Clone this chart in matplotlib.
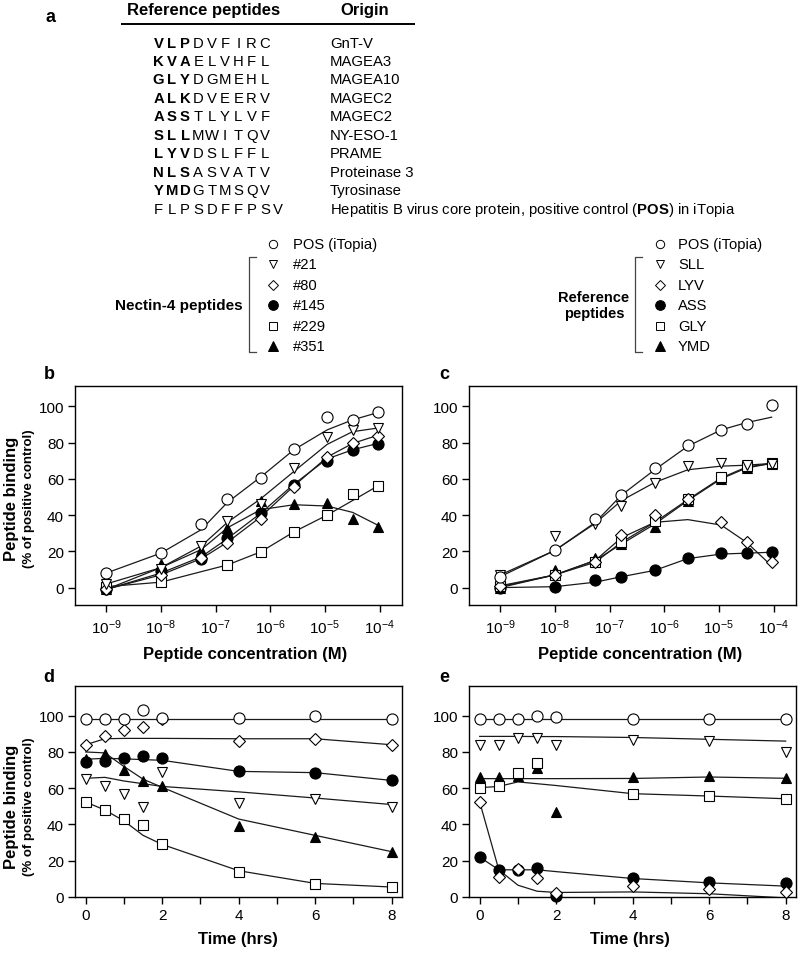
import numpy as np
import matplotlib
matplotlib.use('Agg')
import matplotlib.pyplot as plt

plt.rcParams['font.family'] = ['Liberation Sans', 'DejaVu Sans']
plt.rcParams['mathtext.fontset'] = 'custom'
plt.rcParams['mathtext.rm'] = 'Liberation Sans'
plt.rcParams['mathtext.bf'] = 'Liberation Sans:bold'
plt.rcParams['mathtext.it'] = 'Liberation Sans:italic'

# ---------------- data ----------------
table_seqs = ['VLPDVFIRC', 'KVAELVHFL', 'GLYDGMEHL', 'ALKDVEERV', 'ASSTLYLVF',
              'SLLMWITQV', 'LYVDSLFFL', 'NLSASVATV', 'YMDGTMSQV', 'FLPSDFFPSV']
table_bold = [3, 3, 3, 3, 3, 3, 3, 3, 3, 0]
table_origins = ['GnT-V', 'MAGEA3', 'MAGEA10', 'MAGEC2', 'MAGEC2', 'NY-ESO-1', 'PRAME',
                 'Proteinase 3', 'Tyrosinase',
                 r'Hepatitis B virus core protein, positive control ($\mathbf{POS}$) in iTopia']

nectin_labels = ['POS (iTopia)', '#21', '#80', '#145', '#229', '#351']
ref_labels = ['POS (iTopia)', 'SLL', 'LYV', 'ASS', 'GLY', 'YMD']

conc = [1e-9, 1e-8, 5.5e-8, 1.65e-7, 6.7e-7, 2.7e-6, 1.1e-5, 3.2e-5, 9.2e-5]
conc_ticks = [1e-9, 1e-8, 1e-7, 1e-6, 1e-5, 1e-4]
conc_ticklabels = [r'$10^{-9}$', r'$10^{-8}$', r'$10^{-7}$', r'$10^{-6}$', r'$10^{-5}$', r'$10^{-4}$']

# panel b (Nectin-4 peptides, dose response)
b_pos = [8.3, 19.3, 35.3, 49, 60.7, 76.7, 94.3, 92.5, 97]
b_21 = [2, 10, 23, 37, 46, 66, 83, 87, 88]
b_80 = [-1, 7, 16.5, 24.5, 38, 55.7, 72, 80, 83.6]
b_145 = [-1, 9, 16, 27.6, 41, 56.6, 70, 75.7, 79]
b_229 = [0.5, 3, np.nan, 12.5, 19.7, 30.7, 40, 51.5, 56]
b_351 = [-1, 13, 21, 33, 48, 46.3, 46.5, 38, 33.5]
b_pos_fit = [8, 19, 32, 47, 61, 76, 87, 92.5, 96.5]
b_21_fit = [2, 11, 23, 36, 49, 64, 79, 86, 88]
b_80_fit = [-1, 7, 16, 25, 39, 56, 72, 79.5, 84]
b_145_fit = [-1, 8, 17, 27, 41, 57, 71, 76, 79.5]
b_229_fit = [0.5, 3, 8.8, 12.5, 19.7, 30.7, 40, 48, 56]
b_351_fit = [-1, 11, 21, 33, 43, 45.7, 45, 41.5, 34.5]

# panel c (reference peptides, dose response)
c_pos = [6, 20.5, 38, 51, 66, 78.5, 87, 90, 100.7]
c_sll = [7, 28.5, 35, 45, 57.5, 67, 69, 67.5, 68]
c_lyv = [1, 7, 14, 29, 40, 49, 36, 25, 14]
c_ass = [0, 0.5, 4, 6, 9.5, 16.5, 19, 19, 19.8]
c_gly = [1, 7, 14, 25, 36.7, 49, 61, 67, 68.5]
c_ymd = [0, 9.5, 16.5, 24, 33.4, 48, 60, 66, 68]
c_pos_fit = [6, 20.5, 36, 51, 65, 78, 87, 91, 94]
c_sll_fit = [7, 20.5, 35.5, 48, 58, 65, 67, 67.5, 68.5]
c_lyv_fit = [1, 7, 15, 27.5, 36, 37.5, 34.5, 25, 12]
c_ass_fit = [0, 0.5, 3, 6, 9.5, 16, 18.5, 19, 19.5]
c_gly_fit = [0.5, 7, 14, 25, 36, 48.5, 60.5, 66.5, 68.5]
c_ymd_fit = [0, 7, 15, 24, 35, 48, 60, 66, 68.5]

# time course
hours = [0, 0.5, 1, 1.5, 2, 4, 6, 8]
hour_ticks = [0, 1, 2, 3, 4, 5, 6, 7, 8]
hour_ticklabels = ['0', '', '2', '', '4', '', '6', '', '8']

d_pos = [98.3, 98.3, 98.3, 103, 99, 98.7, 100, 98.3]
d_21 = [65, 61, 57, 49.6, 69, 52, 54, 49.6]
d_80 = [84, 88.6, 92.3, 93.7, 98.3, 86, 87.3, 84]
d_145 = [74.4, 75, 76.8, 78, 76.8, 69.3, 68.6, 64.3]
d_229 = [52.4, 47.8, 43.2, 39.5, 29, 13.8, 7.4, 5.5]
d_351 = [76, 79, 70, 64, 61, 39, 33, 25]
d_pos_fit = [98.3, 98.3, 98.3, 98.3, 98.3, 98.3, 98.3, 98.3]
d_21_fit = [65.5, 66, 64, 62.5, 61, 58, 54.6, 51]
d_80_fit = [84, 87.3, 87.5, 87.5, 87.5, 87.3, 87.3, 84]
d_145_fit = [76, 76.5, 76.2, 75.8, 75.4, 69.3, 68.6, 64.3]
d_229_fit = [52.4, 48, 42, 34, 29, 14.5, 7.5, 5.5]
d_351_fit = [80, 79.5, 72, 65, 60.5, 43, 34, 25]

e_pos = [98.3, 98.3, 98.3, 100, 99.3, 98.3, 98.3, 98.3]
e_sll = [84, 84, 87.7, 87.7, 84, 86.4, 86, 80]
e_lyv = [52.4, 11, 15.3, 10.5, 2.4, 5.9, 4.2, 2.8]
e_ass = [22, 14.7, 15, 16, 0.4, 10.5, 8.3, 7.7]
e_gly = [60.3, 61, 68.4, 74, np.nan, 57, 55.7, 54.2]
e_ymd = [66, 66, 66.5, 71, 47, 66, 66.5, 65.6]
e_pos_fit = [98.3, 98.3, 98.3, 98.3, 98.3, 98.3, 98.3, 98.3]
e_sll_fit = [88.6, 88.6, 88.6, 88.5, 88.5, 88, 87, 86]
e_lyv_fit = [52.4, 15, 6.5, 3.2, 2.5, 2.8, 1.8, -0.5]
e_ass_fit = [22, 15, 15, 15, 14, 10.2, 7.8, 6]
e_gly_fit = [60.3, 61, 63.5, 62.5, 61.5, 57, 55.7, 54.2]
e_ymd_fit = [65.3, 65.3, 65.3, 65.3, 65.3, 65.4, 66.2, 65.5]

# ---------------- styles ----------------
markers = ['o', 'v', 'D', 'o', 's', '^']
filled = [False, False, False, True, False, True]
msizes = [8, 7.5, 6.6, 8, 6.8, 7.5]
leg_msizes = [6, 6, 5.4, 7, 5.6, 7]
draw_order = [5, 3, 4, 2, 1, 0]
LINE_C = '#1a1a1a'

W, H = 798, 954
fig = plt.figure(figsize=(W / 100, H / 100), dpi=100)

bg = fig.add_axes([0, 0, 1, 1])
bg.set_xlim(0, W)
bg.set_ylim(H, 0)
bg.axis('off')


def px_axes(x0, y0, x1, y1):
    return fig.add_axes([x0 / W, 1 - y1 / H, (x1 - x0) / W, (y1 - y0) / H])


def style_axes(ax):
    for s in ax.spines.values():
        s.set_linewidth(1.0)
    ax.tick_params(direction='out', length=5, width=1, labelsize=11, pad=3)


def draw_series(ax, x, ys, fits):
    for i in draw_order:
        ax.plot(x, fits[i], color=LINE_C, lw=0.9, zorder=2)
    for k, i in enumerate(draw_order):
        ax.plot(x, ys[i], ls='none', marker=markers[i], ms=msizes[i],
                mfc='black' if filled[i] else 'white', mec='black', mew=0.8,
                zorder=3 + k, clip_on=False)


# ---------------- panel a: table ----------------
bg.text(50, 18, 'a', fontsize=13, fontweight='bold', ha='center', va='center')
bg.text(204, 14.5, 'Reference peptides', fontsize=12, fontweight='bold', ha='center', va='baseline')
bg.text(365, 14.5, 'Origin', fontsize=12, fontweight='bold', ha='center', va='baseline')
bg.plot([121, 415], [25, 25], color='black', lw=1.4, solid_capstyle='butt')
for r, (seq, nb, org) in enumerate(zip(table_seqs, table_bold, table_origins)):
    yb = 47.5 + r * 18.45
    for j, ch in enumerate(seq):
        bg.text(158.5 + j * 13.3, yb, ch, fontsize=10.7, ha='center', va='baseline',
                fontweight='bold' if j < nb else 'normal')
    bg.text(330, yb, org, fontsize=10.7, ha='left', va='baseline')

# ---------------- legends ----------------
def legend_block(mx, tx, bx, labels, title, title_x, title_ha, title_size):
    for i, lab in enumerate(labels):
        y = 245 + i * 20.4
        bg.plot([mx], [y], marker=markers[i], ms=leg_msizes[i], ls='none',
                mfc='black' if filled[i] else 'white', mec='black', mew=0.7)
        bg.text(tx, y, lab, fontsize=10.6, ha='left', va='center')
    bg.plot([bx + 7, bx, bx, bx + 7], [257.5, 257.5, 353, 353], color='#444444', lw=0.9)
    bg.text(title_x, 306, title, fontsize=title_size, fontweight='bold', ha=title_ha,
            va='center', multialignment='center', linespacing=1.15)


legend_block(273, 293, 249, nectin_labels, 'Nectin-4 peptides', 243, 'right', 11)
legend_block(660, 678, 635, ref_labels, 'Reference\npeptides', 594, 'center', 10.5)

# ---------------- panels b, c ----------------
b_ys = [b_pos, b_21, b_80, b_145, b_229, b_351]
b_fits = [b_pos_fit, b_21_fit, b_80_fit, b_145_fit, b_229_fit, b_351_fit]
c_ys = [c_pos, c_sll, c_lyv, c_ass, c_gly, c_ymd]
c_fits = [c_pos_fit, c_sll_fit, c_lyv_fit, c_ass_fit, c_gly_fit, c_ymd_fit]

for (x0, x1), ys, fits in [((75, 402), b_ys, b_fits), ((469, 796), c_ys, c_fits)]:
    ax = px_axes(x0, 387, x1, 606)
    style_axes(ax)
    ax.set_xscale('log')
    draw_series(ax, conc, ys, fits)
    ax.set_xlim(10 ** -9.57, 10 ** -3.59)
    ax.set_ylim(-9.6, 111.2)
    ax.set_xticks(conc_ticks)
    ax.set_xticklabels(conc_ticklabels)
    ax.xaxis.set_minor_locator(matplotlib.ticker.NullLocator())
    ax.set_yticks([0, 20, 40, 60, 80, 100])
    ax.tick_params(axis='x', pad=4)

# ---------------- panels d, e ----------------
d_ys = [d_pos, d_21, d_80, d_145, d_229, d_351]
d_fits = [d_pos_fit, d_21_fit, d_80_fit, d_145_fit, d_229_fit, d_351_fit]
e_ys = [e_pos, e_sll, e_lyv, e_ass, e_gly, e_ymd]
e_fits = [e_pos_fit, e_sll_fit, e_lyv_fit, e_ass_fit, e_gly_fit, e_ymd_fit]

for (x0, x1), ys, fits in [((75, 402), d_ys, d_fits), ((469, 796), e_ys, e_fits)]:
    ax = px_axes(x0, 687, x1, 898)
    style_axes(ax)
    draw_series(ax, hours, ys, fits)
    ax.set_xlim(-0.28, 8.27)
    ax.set_ylim(0, 116.4)
    ax.set_xticks(hour_ticks)
    ax.set_xticklabels(hour_ticklabels)
    ax.set_yticks([0, 20, 40, 60, 80, 100])

# ---------------- labels ----------------
for lab, x, y in [('b', 49, 375), ('c', 444, 375), ('d', 49, 678), ('e', 444, 678)]:
    bg.text(x, y, lab, fontsize=13, fontweight='bold', ha='center', va='center')

for x in (245, 640):
    bg.text(x, 655, 'Peptide concentration (M)', fontsize=12, fontweight='bold', ha='center', va='center')
for x in (238, 630):
    bg.text(x, 940, 'Time (hrs)', fontsize=12, fontweight='bold', ha='center', va='center')
for yc in (499, 807):
    bg.text(12, yc, 'Peptide binding', fontsize=12, fontweight='bold', rotation=90, ha='center', va='center')
    bg.text(29, yc, '(% of positive control)', fontsize=9.5, fontweight='bold', rotation=90, ha='center', va='center')

fig.savefig('out.png', dpi=100)
